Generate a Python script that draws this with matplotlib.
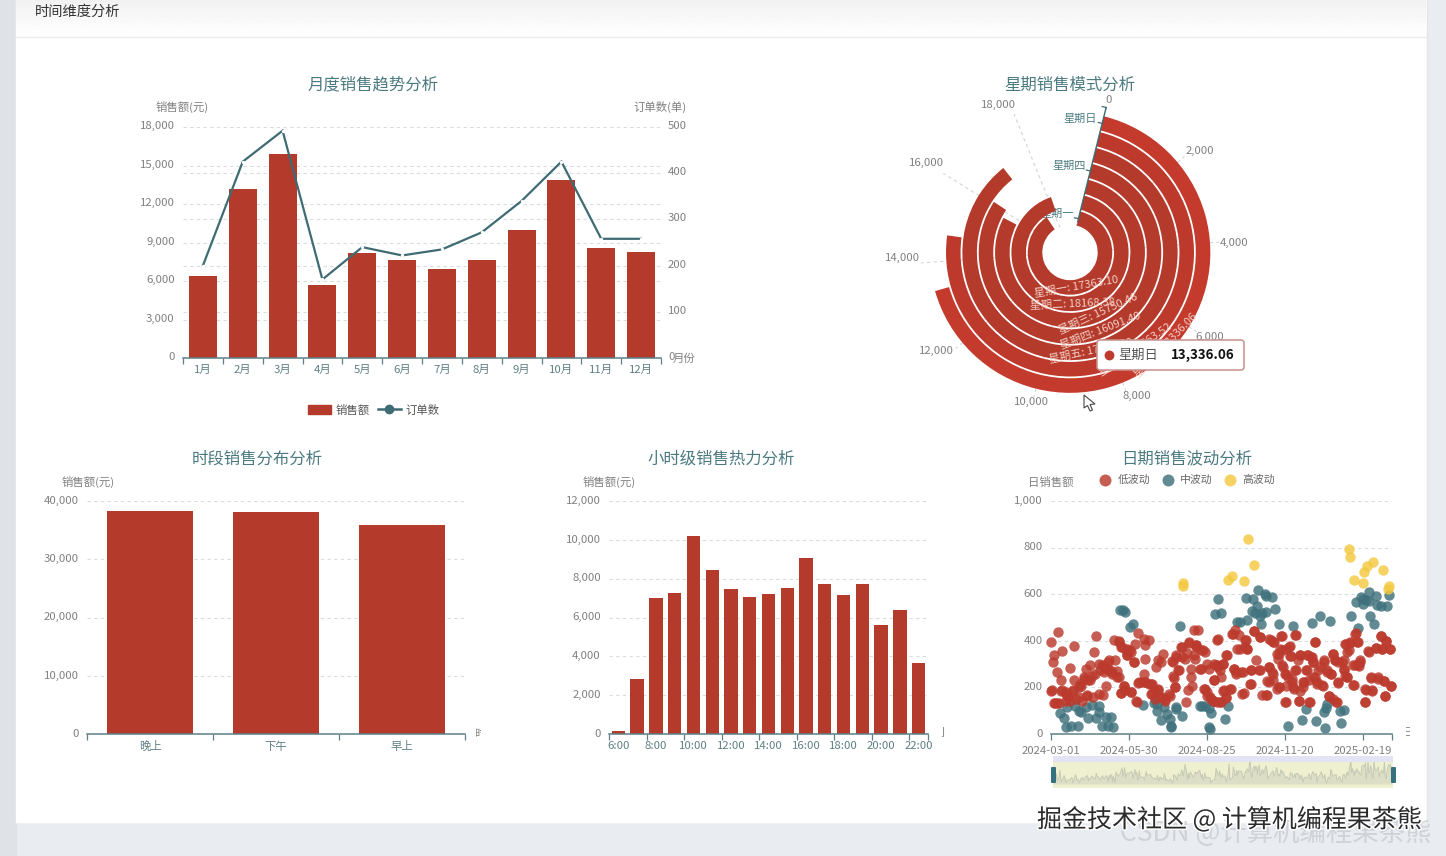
import numpy as np
import matplotlib
matplotlib.use("Agg")
import matplotlib.pyplot as plt
from matplotlib.patches import FancyBboxPatch, Rectangle, Polygon, Patch
from matplotlib.lines import Line2D
from matplotlib.transforms import ScaledTranslation
import matplotlib.patheffects as pe

plt.rcParams['font.family'] = ['Noto Sans CJK SC', 'DejaVu Sans']

# ---------- data ----------
months = ['1月','2月','3月','4月','5月','6月','7月','8月','9月','10月','11月','12月']
month_sales = [6400,13200,15900,5700,8200,7600,6950,7600,10000,13900,8600,8250]
month_orders = [200,425,492,170,240,222,235,272,340,425,258,258]

weekdays = ['星期一','星期二','星期三','星期四','星期五','星期六','星期日']
week_sales = [17363.10,18168.38,15750.46,16091.40,17095.20,14663.52,13336.06]
week_ticks = [0,2000,4000,6000,8000,10000,12000,14000,16000,18000]

periods = ['晚上','下午','早上']
period_sales = [38200,38050,35950]

hours = ['6:00','7:00','8:00','9:00','10:00','11:00','12:00','13:00','14:00','15:00','16:00','17:00','18:00','19:00','20:00','21:00','22:00']
hour_sales = [150,2850,7000,7250,10200,8450,7450,7050,7200,7500,9050,7700,7150,7750,5600,6400,3650]

date_ticks = [0,90,180,270,360]
date_labels = ['2024-03-01','2024-05-30','2024-08-25','2024-11-20','2025-02-19']

low_idx = [0,2,4,1,3,5,7,9,8,7,12,13,13,17,17,20,22,22,26,25,26,29,32,36,35,40,38,42,45,45,49,50,52,51,55,57,59,60,61,63,65,66,68,70,74,76,78,73,78,81,81,84,87,88,91,86,93,96,97,98,100,102,107,105,109,109,108,113,109,113,117,115,119,121,124,124,127,129,128,132,136,140,142,143,148,145,150,151,156,158,159,157,162,162,163,165,170,167,168,166,173,173,178,177,180,182,184,188,188,192,192,195,195,197,199,200,203,202,207,209,211,213,214,217,215,221,220,224,224,227,230,231,234,237,240,242,244,249,252,252,250,257,257,255,261,263,261,265,266,268,270,275,270,274,276,278,282,282,280,286,285,288,291,292,297,295,298,301,305,303,303,307,309,314,315,319,321,324,326,328,329,332,336,339,341,342,342,346,349,352,351,355,357,356,363,367,364,370,371,375,378,381,383,385,386,387,392,393,
 0,12,17,20,25,32,34,38,43,47,42,56,61,65,67,70,76,78,82,88,92,88,96,84,81,93,99,101,109,115,124,117,120,126,132,137,143,141,147,141,145,151,155,159,165,167,172,176,178,180,185,192,188,180,188,193,
 187,196,202,199,208,191,199,202,193,210,218,225,227,212,214,222,231,241,231,223,235,242,254,258,267,283,305,248,252,256,252,263,271,277,263,267,271,276,262,267,271,279,281,288,286,299,271,288,296,300,303,283,296,291,298,305,307,313,315,311,319,324,321,326,330,326,328,332,338,332,338,340,342,350,340,344,346,354,351,349,355,357,366,375,382,381,387,392,370,378,385,393,363,371,386,363]
low_val = [395,308,337,187,133,133,133,133,439,265,232,356,187,180,143,158,143,284,376,187,230,151,200,143,208,277,237,169,230,297,158,351,420,258,172,273,298,169,265,208,280,308,273,265,318,270,244,402,395,373,175,204,359,337,359,187,181,308,385,143,435,222,258,222,222,323,409,402,380,215,215,172,187,287,316,187,308,344,158,151,172,313,241,201,273,330,373,330,139,187,390,347,280,244,208,445,445,380,373,323,277,359,351,194,179,277,158,141,232,405,294,136,273,244,301,187,337,154,194,430,277,445,268,423,363,172,265,402,373,363,215,273,440,316,273,416,168,168,406,287,227,230,395,265,194,201,344,366,420,287,258,373,139,244,333,222,426,273,201,143,316,337,201,222,337,273,136,330,395,308,244,222,273,208,311,273,161,258,344,316,136,219,311,273,387,244,351,390,212,433,294,395,308,291,139,354,187,241,187,370,237,420,366,227,165,399,366,204,
 186,186,172,158,186,158,215,244,230,251,165,301,287,280,316,258,244,399,373,366,351,337,308,208,175,179,136,218,222,215,194,172,151,158,143,165,201,247,273,308,337,373,323,395,337,380,280,359,194,165,151,136,230,301,301,287,
 143,136,158,186,194,294,301,337,409,430,366,402,366,280,258,265,273,273,215,175,440,416,405,395,419,426,395,169,287,258,225,201,208,334,344,359,366,376,323,294,258,237,194,186,143,136,136,337,337,330,308,273,273,222,230,244,215,212,316,287,265,258,165,151,136,344,316,308,316,222,280,251,244,212,387,359,395,395,430,298,298,316,356,370,366,420,399,366,244,244,227,205,191,184,165,139]

mid_idx = [10,15,17,18,23,28,31,32,35,41,43,47,52,56,55,59,64,69,66,72,80,83,86,91,95,106,119,122,123,127,131,134,137,139,139,144,144,151,149,172,174,178,182,185,183,184,189,196,193,201,205,215,218,225,227,233,232,236,239,238,242,243,244,247,248,248,255,259,264,274,280,290,295,301,306,311,317,316,319,318,322,335,334,339,347,355,352,358,360,361,364,368,368,375,369,373,377,381,388,390]
mid_val = [90,67,29,115,36,122,36,100,93,115,67,125,67,119,93,36,75,75,33,32,531,534,525,459,473,126,133,129,98,60,115,86,65,29,36,118,108,79,462,119,119,119,112,89,29,22,514,519,580,65,119,481,481,585,488,580,528,519,617,548,505,473,519,600,524,591,588,538,470,33,465,60,106,476,55,508,26,96,129,112,485,46,98,103,508,456,568,588,560,581,577,610,571,591,505,473,555,548,548,595]

high_idx = [153,153,204,209,223,228,235,344,345,350,360,362,365,372,384,389,391]
high_val = [650,634,660,680,657,836,726,796,760,663,646,696,720,737,706,624,636]

# ---------- colours ----------
RED = '#b43a2b'
TEAL = '#3f6b73'
TITLE = '#4a7a80'
GRAY = '#808080'
AXIS_TXT = '#5f7f84'
GRID = '#d8dce2'
W, H = 1446, 856

fig = plt.figure(figsize=(W/100, H/100), dpi=100, facecolor='white')

def box(x0, ytop, x1, ybot, **kw):
    return fig.add_axes([x0/W, 1-ybot/H, (x1-x0)/W, (ybot-ytop)/H], **kw)

# ---------- page background ----------
bg = fig.add_axes([0,0,1,1], zorder=-5)
bg.set_xlim(0,W); bg.set_ylim(H,0); bg.axis('off')
bg.add_patch(Rectangle((0,0),W,H,color='#e9ecf0'))
bg.add_patch(Rectangle((0,0),16,H,color='#dfe3e7'))
bg.add_patch(Rectangle((16,0),1410,822,color='white'))
grad = np.linspace(0.945,1,36).reshape(-1,1)
bg.imshow(grad, extent=(16,1426,36,0), cmap='gray', vmin=0, vmax=1, aspect='auto', zorder=1)
bg.set_xlim(0,W); bg.set_ylim(H,0)
bg.plot([16,1426],[36.5,36.5],color='#eeeeee',lw=1,zorder=2)
bg.plot([1426.5,1426.5],[0,822],color='#e3e5e8',lw=1,zorder=2)

def raise_labels(ax, px, side=1):
    off = ScaledTranslation(0, px/100, fig.dpi_scale_trans)
    for t in ax.yaxis.get_major_ticks():
        lab = t.label1 if side == 1 else t.label2
        lab.set_transform(lab.get_transform() + off)

def style(ax, xcolor=AXIS_TXT):
    ax.patch.set_visible(False)
    for s in ('top','right','left'):
        ax.spines[s].set_visible(False)
    ax.spines['bottom'].set_color('#5d7f85')
    ax.spines['bottom'].set_linewidth(1.1)
    ax.grid(axis='y', color=GRID, ls=(0,(3,3)), lw=0.8)
    ax.set_axisbelow(True)
    ax.tick_params(axis='y', length=0, labelsize=8.2, labelcolor=GRAY, pad=6)
    ax.tick_params(axis='x', which='major', length=4, color='#5d7f85', width=0.9, labelsize=8.2, labelcolor=xcolor)

def cat_axis(ax, labels, step=1):
    n = len(labels)
    ax.set_xlim(-0.5, n-0.5)
    ax.set_xticks(np.arange(-0.5, n, step))
    ax.set_xticklabels([])
    ax.set_xticks(np.arange(0, n, step), labels[::step], minor=True)
    ax.tick_params(axis='x', which='minor', length=0, labelsize=8.2, labelcolor=AXIS_TXT, pad=5)

# ---------- monthly ----------
a1 = box(183,127,661,358)
style(a1)
cat_axis(a1, months)
a1.bar(months, month_sales, width=0.7, color=RED, label='销售额', zorder=2)
a1.set_xlim(-0.5, 11.5)
a1.set_ylim(0,18000)
a1.set_yticks(range(0,18001,3000))
a1.yaxis.set_major_formatter(lambda v,p: f'{int(v):,}')
a1r = a1.twinx()
a1r.patch.set_visible(False)
for s in a1r.spines.values():
    s.set_visible(False)
a1r.plot(months, month_orders, color=TEAL, lw=1.6, zorder=3, solid_joinstyle='miter',
         marker='o', ms=2.4, mfc='white', mew=0)
a1r.set_ylim(0,500)
a1r.set_yticks(range(0,501,100))
a1r.tick_params(axis='y', length=0, labelsize=8.2, labelcolor=GRAY, pad=5)
# right-axis grid lines sit under the bars, on the left axes' minor ticks
a1.set_yticks([v*18000/500 for v in range(100,500,100)], minor=True)
a1.tick_params(axis='y', which='minor', length=0)
a1.grid(axis='y', which='minor', color=GRID, ls=(0,(3,3)), lw=0.8)
a1r.grid(False)
a1.legend(handles=[Patch(color=RED,label='销售额'),
                   Line2D([],[],color=TEAL,lw=1.8,marker='o',ms=6,label='订单数')],
          loc='center', bbox_to_anchor=(374/W,1-410/H), bbox_transform=fig.transFigure,
          ncol=2, frameon=False, fontsize=8.2, labelcolor='#555555', handlelength=2.0,
          handleheight=0.9, handletextpad=0.45, columnspacing=0.7)

# ---------- polar ----------
R0, BAND = 26.8, 16.35
RTOP = 7.5
Rmax = R0 + RTOP*BAND
CX, CY = 1070, 252.5
pa = box(CX-Rmax, CY-Rmax, CX+Rmax, CY+Rmax, projection='polar')
pa.patch.set_visible(False)
pa.set_theta_zero_location('N', offset=-14)
pa.set_theta_direction(-1)
pa.set_rorigin(-R0/BAND)
pa.set_rlim(0,RTOP)
to_rad = lambda v: np.asarray(v)/20000*2*np.pi
pa.spines['polar'].set_visible(False)
pa.spines['inner'].set_linewidth(0)
pa.spines['inner'].set_edgecolor('none')
for i, (d, v) in enumerate(zip(weekdays, week_sales)):
    col = '#c43b2e' if i == 6 else ('#bc392c' if i == 5 else RED)
    pa.bar(0, 0.89, width=to_rad(v), bottom=i+0.055, align='edge', color=col, zorder=2)
    th = to_rad(v)/2
    rot = 180 - (np.degrees(th)+14)
    pa.text(th, i+0.5, f'{d}: {v:.2f}', rotation=rot, rotation_mode='anchor',
            ha='center', va='center', fontsize=8, color='#f5cfc6', zorder=3)
pa.set_yticks([])
pa.set_xticks(to_rad(week_ticks))
pa.set_xticklabels([])
pa.grid(axis='x', color='#cfd3d8', ls=(0,(3,3)), lw=0.8)
pa.set_axisbelow(True)
pa.tick_params(axis='x', length=3, color='#aaaaaa', width=0.8)
label_r_px = [157,165.5,163,163,158,152.6,165.7,168,169,164.6]
label_off_px = [(1,0),(3,-5),(1,-2),(1,2),(8,3),(-2,-1),(-7,8),(0,6),(0,0),(-10,-5)]
for t, rp, (dx, dy) in zip(week_ticks, label_r_px, label_off_px):
    pa.annotate(f'{t:,}', xy=(to_rad(t), (rp-R0)/BAND), xytext=(dx*0.72, dy*0.72),
                textcoords='offset points', fontsize=8.2, color=GRAY, ha='center', va='center',
                annotation_clip=False, zorder=5)
pa.plot([0,0],[0.3,RTOP], color=TEAL, lw=1.0, zorder=4, clip_on=False)
for r in (0.5,3.5,6.5,RTOP):
    rp = R0 + r*BAND
    pa.plot([0,-4/rp],[r,r], color=TEAL, lw=0.9, zorder=4, clip_on=False)
for r, idx, z in ((0.5,0,1),(3.5,3,4),(6.5,6,4)):
    pa.annotate(weekdays[idx], xy=(0,r), xytext=(-3.6,3.5),
                textcoords='offset points', ha='right', va='center', fontsize=8,
                color=TITLE, zorder=z, annotation_clip=False)

# ---------- period ----------
a3 = box(87,501,465,734)
style(a3)
cat_axis(a3, periods)
a3.bar(periods, period_sales, width=0.69, color=RED, zorder=2)
a3.set_xlim(-0.5,2.5)
a3.set_ylim(0,40000)
a3.set_yticks(range(0,40001,10000))
a3.yaxis.set_major_formatter(lambda v,p: f'{int(v):,}')

# ---------- hourly ----------
a4 = box(609,501,928,734)
style(a4)
cat_axis(a4, hours, step=2)
a4.bar(hours, hour_sales, width=0.71, color=RED, zorder=2)
a4.set_xlim(-0.5,16.5)
a4.set_xticks(list(np.arange(-0.5,17,2))+[16.5])
a4.set_xticklabels([])
a4.set_ylim(0,12000)
a4.set_yticks(range(0,12001,2000))
a4.yaxis.set_major_formatter(lambda v,p: f'{int(v):,}')

# ---------- scatter ----------
a5 = box(1051,501,1392,734)
style(a5)
a5.set_xlim(0,394)
a5.set_ylim(0,1000)
a5.set_yticks(range(0,1001,200))
a5.yaxis.set_major_formatter(lambda v,p: f'{int(v):,}')
a5.set_xticks(date_ticks+[394])
a5.set_xticklabels(date_labels+[''], fontsize=8.2, color=GRAY)
a5.tick_params(axis='x', pad=5)
SCOL = ['#bb3a2d','#3f717c','#f3c93f']
for (ix, vl, c, lb, z) in ((low_idx,low_val,SCOL[0],'低波动',3),
                           (mid_idx,mid_val,SCOL[1],'中波动',2),
                           (high_idx,high_val,SCOL[2],'高波动',2)):
    a5.scatter(ix, vl, s=56, color=c, alpha=0.82, linewidths=0, zorder=z, clip_on=False, label=lb)
a5.legend(loc='center', bbox_to_anchor=(1186/W,1-480/H), bbox_transform=fig.transFigure,
          ncol=3, frameon=False, fontsize=7.8, labelcolor='#666666', handletextpad=0.35,
          columnspacing=0.8, scatterpoints=1, markerscale=1.15, handlelength=1.6)

for ax, px in ((a1,2),(a3,1.2),(a4,1.2),(a5,1.2)):
    raise_labels(ax, px)
raise_labels(a1r, 2, side=2)

# ---------- data zoom ----------
z = box(1053,762,1393,788)
z.set_facecolor('#eef0d0')
for s in z.spines.values():
    s.set_visible(False)
z.set_xticks([]); z.set_yticks([])
all_i = np.array(low_idx+mid_idx+high_idx)
all_v = np.array(low_val+mid_val+high_val, float)
ui = np.unique(all_i)
uv = np.array([all_v[all_i==u].mean() for u in ui])
z.fill_between(ui, 0, uv, color='#dcdfc6', lw=0)
z.plot(ui, uv, color='#c6c9b4', lw=0.7)
z.set_xlim(0,394)
z.set_ylim(-130,720)

# ---------- overlay ----------
ov = fig.add_axes([0,0,1,1], zorder=20)
ov.set_xlim(0,W); ov.set_ylim(H,0); ov.axis('off'); ov.patch.set_visible(False)

def T(x, y, s, size=8, color=GRAY, ha='center', **kw):
    return ov.text(x, y, s, fontsize=size, color=color, ha=ha, va='center', **kw)

T(35, 12, '时间维度分析', 10.3, '#333333', ha='left')
for x, y, s in ((373.5,85,'月度销售趋势分析'),(1069.5,85,'星期销售模式分析'),(257.5,459,'时段销售分布分析'),
                (721.5,459,'小时级销售热力分析'),(1186.5,459,'日期销售波动分析')):
    T(x, y, s, 11.8, TITLE)
for x, y, s in ((182.5,107,'销售额(元)'),(660.5,107,'订单数(单)'),(88,482,'销售额(元)'),
                (609.5,482,'销售额(元)'),(1050.5,482,'日销售额')):
    T(x, y, s, 8.2)
T(684.5, 358.5, '月份', 8.2, GRAY)

# clipped axis names
for x, s, cx0, cx1 in ((474,'时段',476,481),(938,'小时',942,946),(1403,'日期',1406,1410)):
    t = T(x, 733, s, 8, GRAY, ha='left')
    rect = Rectangle((cx0,725),cx1-cx0,15,transform=ov.transData)
    t.set_clip_path(rect)
    t.set_clip_on(True)

# zoom slider decorations
ov.add_patch(Rectangle((1053,756),340,6,color='#e3e4f3',lw=0))
for x in (1051,1391):
    ov.add_patch(FancyBboxPatch((x,767),5,16,boxstyle='round,pad=0,rounding_size=1',color='#37707f',lw=0))

# tooltip
ov.add_patch(FancyBboxPatch((1097,340),147,30,boxstyle='round,pad=0,rounding_size=3',
                            fc='white',ec='#c9908b',lw=1.1))
ov.scatter([1109],[354.5],s=50,color='#bf3a2e',linewidths=0)
T(1118, 355, '星期日', 9.5, '#555555', ha='left')
T(1235, 355, '13,336.06', 9.6, '#111111', ha='right', fontweight='bold')

# cursor
ov.add_patch(Polygon([(1084,395),(1084,408),(1087.5,405.5),(1090,411),(1092.5,410),(1090,404.5),(1095,404)],
                     closed=True,fc='white',ec='#444444',lw=0.8))

# watermarks
T(1120, 833, 'CSDN @计算机编程果茶熊', 19, '#c9ccd1', ha='left', alpha=0.8, clip_on=True)
T(1037, 820, '掘金技术社区 @ 计算机编程果茶熊', 18, '#2b2b2b', ha='left',
  path_effects=[pe.withStroke(linewidth=2.2, foreground='white')])

fig.savefig('out.png', dpi=100, facecolor='white')
